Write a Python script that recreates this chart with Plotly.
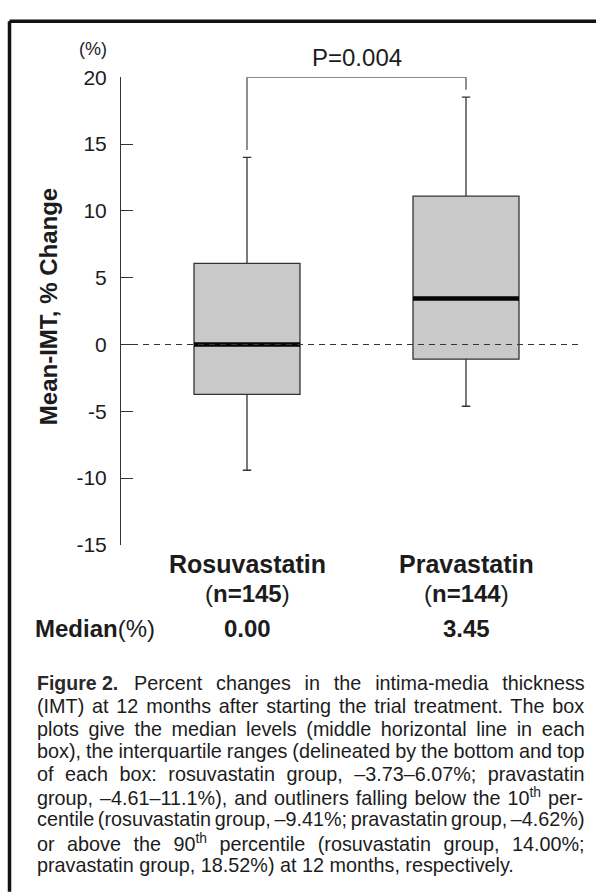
import plotly.graph_objects as go

# ---------------- data ----------------
groups = ["Rosuvastatin", "Pravastatin"]
group_n = [145, 144]
positions = [0, 1]
q1 = [-3.73, -1.1]
median = [0.00, 3.45]
q3 = [6.07, 11.1]
lower_whisker = [-9.41, -4.62]
upper_whisker = [14.00, 18.52]
median_labels = ["0.00", "3.45"]
y_tickvals = [-15, -10, -5, 0, 5, 10, 15, 20]
y_ticktext = ["-15", "-10", "-5", "0", "5", "10", "15", "20"]
p_value_text = "P=0.004"
bracket_level = 20
y_title = "Mean-IMT, % Change"
caption_label = "Figure 2."
caption_lines = [
    "Percent changes in the intima-media thickness",
    "(IMT) at 12 months after starting the trial treatment. The box",
    "plots give the median levels (middle horizontal line in each",
    "box), the interquartile ranges (delineated by the bottom and top",
    "of each box: rosuvastatin group, \u20133.73\u20136.07%; pravastatin",
    "group, \u20134.61\u201311.1%), and outliners falling below the 10<sup>th</sup> per-",
    "centile (rosuvastatin group, \u20139.41%; pravastatin group, \u20134.62%)",
    "or above the 90<sup>th</sup> percentile (rosuvastatin group, 14.00%;",
    "pravastatin group, 18.52%) at 12 months, respectively.",
]

# ---------------- styling ----------------
W, H = 596, 894
BOX_WIDTH = 0.484
BRACKET_GAP = 0.55
INK = "#1c1c1c"
LINE = "#333333"
FONT = "Liberation Sans, Arial, sans-serif"
CAP_SIZE = 19.8


def px(x):
    return x / W


def py(y):
    return 1 - y / H


# Arial / Liberation Sans advance widths (1/1000 em)
AW = {' ': 278, '(': 333, ')': 333, ',': 278, '-': 333, '.': 278, ':': 278, ';': 278,
      '%': 889, '\u2013': 556,
      'A': 667, 'B': 667, 'C': 722, 'D': 722, 'E': 667, 'F': 611, 'G': 778, 'H': 722,
      'I': 278, 'J': 500, 'K': 667, 'L': 556, 'M': 833, 'N': 722, 'O': 778, 'P': 667,
      'Q': 778, 'R': 722, 'S': 667, 'T': 611, 'U': 722, 'V': 667, 'W': 944, 'X': 667,
      'Y': 667, 'Z': 611,
      'a': 556, 'b': 556, 'c': 500, 'd': 556, 'e': 556, 'f': 278, 'g': 556, 'h': 556,
      'i': 222, 'j': 222, 'k': 500, 'l': 222, 'm': 833, 'n': 556, 'o': 556, 'p': 556,
      'q': 556, 'r': 333, 's': 500, 't': 278, 'u': 556, 'v': 500, 'w': 722, 'x': 500,
      'y': 500, 'z': 500}
for d in "0123456789":
    AW[d] = 556


def natural_width(line, size):
    total = 0.0
    rest = line
    while rest:
        if rest.startswith("<sup>"):
            end = rest.index("</sup>")
            seg = rest[5:end]
            total += sum(AW.get(c, 556) for c in seg) * 0.7
            rest = rest[end + 6:]
        else:
            total += AW.get(rest[0], 556)
            rest = rest[1:]
    return total * size / 1000


fig = go.Figure()

# boxes
for i in range(len(groups)):
    fig.add_trace(go.Box(
        x=[positions[i]], q1=[q1[i]], median=[median[i]], q3=[q3[i]],
        lowerfence=[lower_whisker[i]], upperfence=[upper_whisker[i]],
        width=BOX_WIDTH, whiskerwidth=0.08, boxpoints=False,
        fillcolor="#c9c9c9", line=dict(color=LINE, width=1.3),
        showlegend=False, hoverinfo="skip",
    ))
    # thick median bar
    fig.add_trace(go.Scatter(
        x=[positions[i] - BOX_WIDTH / 2, positions[i] + BOX_WIDTH / 2],
        y=[median[i], median[i]], mode="lines",
        line=dict(color="#050505", width=4.5), showlegend=False, hoverinfo="skip",
    ))

# significance bracket
fig.add_trace(go.Scatter(
    x=[positions[0], positions[0], positions[1], positions[1]],
    y=[upper_whisker[0] + BRACKET_GAP, bracket_level, bracket_level, upper_whisker[1] + BRACKET_GAP],
    mode="lines", line=dict(color=LINE, width=1.1), showlegend=False, hoverinfo="skip",
    cliponaxis=False,
))

# dashed zero line
fig.add_shape(type="line", xref="x domain", x0=0, x1=1, yref="y", y0=0, y1=0,
              line=dict(color=LINE, width=1.1, dash="6px,5px"), layer="above")

# outer frame (cropped at right/bottom)
fig.add_shape(type="line", xref="paper", yref="paper", x0=px(9.5), x1=1.01, y0=py(9.5), y1=py(9.5),
              line=dict(color="#111", width=3.5))
fig.add_shape(type="line", xref="paper", yref="paper", x0=px(9.5), x1=px(9.5), y0=py(9.5), y1=-0.01,
              line=dict(color="#111", width=3.5))

ann = []
# p-value
ann.append(dict(x=(positions[0] + positions[1]) / 2, xref="x", y=py(47), yref="paper",
                text=p_value_text, showarrow=False, font=dict(family=FONT, size=24, color=INK),
                xanchor="center", yanchor="middle"))
# (%) unit label
ann.append(dict(x=px(93), y=py(38), xref="paper", yref="paper", text="(%)", showarrow=False,
                font=dict(family=FONT, size=18, color=INK), xanchor="center", yanchor="middle"))
# y title
ann.append(dict(x=px(48), y=py(303), xref="paper", yref="paper", text="<b>%s</b>" % y_title,
                textangle=-90, showarrow=False, font=dict(family=FONT, size=24, color=INK),
                xanchor="center", yanchor="middle"))
# group labels
for i in range(len(groups)):
    ann.append(dict(x=positions[i], xref="x", y=py(567), yref="paper",
                    text="<b>%s</b>" % groups[i], showarrow=False,
                    font=dict(family=FONT, size=25, color=INK), xanchor="center", yanchor="middle"))
    ann.append(dict(x=positions[i], xref="x", y=py(597), yref="paper",
                    text="(<b>n=%d</b>)" % group_n[i], showarrow=False,
                    font=dict(family=FONT, size=24, color=INK), xanchor="center", yanchor="middle"))
    ann.append(dict(x=positions[i], xref="x", y=py(633), yref="paper",
                    text="<b>%s</b>" % median_labels[i], showarrow=False,
                    font=dict(family=FONT, size=24, color=INK), xanchor="center", yanchor="middle"))
ann.append(dict(x=px(33), y=py(633), xref="paper", yref="paper", text="<b>Median</b>(%)",
                showarrow=False, font=dict(family=FONT, size=24, color=INK),
                xanchor="left", yanchor="middle"))

# caption
LEFT, RIGHT, FIRST_TEXT_X = 36, 584, 133
ann.append(dict(x=px(LEFT), y=py(689), xref="paper", yref="paper",
                text="<b>%s</b>" % caption_label,
                showarrow=False, font=dict(family=FONT, size=19.5, color="#2a2a2a"),
                xanchor="left", yanchor="middle", borderpad=0))
for k, line in enumerate(caption_lines):
    x0 = FIRST_TEXT_X if k == 0 else LEFT
    yc = 689 + 23.3 * k
    if k < len(caption_lines) - 1:
        nat = natural_width(line, CAP_SIZE)
        nsp = line.count(" ")
        ws = (RIGHT - x0 - nat) / nsp
        txt = '<span style="word-spacing:%.2fpx">%s</span>' % (ws, line)
    else:
        txt = line
    ann.append(dict(x=px(x0), y=py(yc), xref="paper", yref="paper", text=txt,
                    showarrow=False, font=dict(family=FONT, size=CAP_SIZE, color=INK),
                    xanchor="left", yanchor="middle", borderpad=0, align="left"))

x_left = -(247 - 121) / 219
x_right = (580 - 247) / 219

fig.update_layout(
    width=W, height=H, margin=dict(l=0, r=0, t=0, b=0),
    paper_bgcolor="white", plot_bgcolor="white",
    xaxis=dict(domain=[px(121), px(580)], range=[x_left, x_right], visible=False),
    yaxis=dict(domain=[py(547), py(67)], range=[-15, 20], tickmode="array",
               tickvals=y_tickvals, ticktext=y_ticktext, ticks="inside", ticklen=12,
               tickwidth=1.1, tickcolor=LINE, showline=True, linecolor=LINE, linewidth=1.1,
               showgrid=False, zeroline=False, ticklabelstandoff=9,
               tickfont=dict(family=FONT, size=21, color=INK)),
    annotations=ann,
    showlegend=False,
)

fig.write_html("out.html")
